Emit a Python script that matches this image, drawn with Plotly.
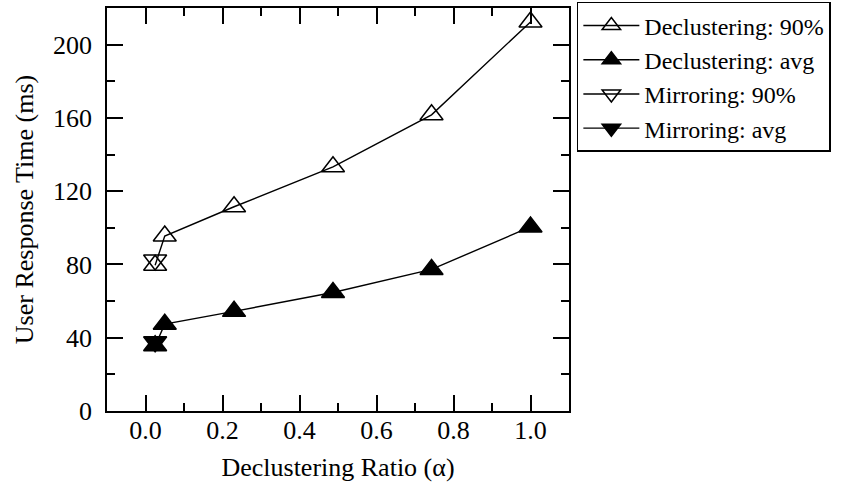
import plotly.graph_objects as go

# Declustering ratio (alpha) at which each configuration was measured
alpha_declustering = [0.025, 0.05, 0.23, 0.487, 0.743, 1.0]
alpha_mirroring = [0.025]

# User response times (ms)
declustering_p90 = [79.6, 95.5, 111.5, 133.3, 161.7, 212.4]
declustering_avg = [35.6, 47.4, 54.4, 64.7, 77.3, 100.5]
mirroring_p90 = [82.4]
mirroring_avg = [37.8]

FONT = "Liberation Serif, Times New Roman, serif"
BLACK = "#000000"

fig = go.Figure()


def add_series(x, y, name, symbol):
    fig.add_trace(go.Scatter(
        x=x, y=y, name=name, mode="lines+markers",
        line=dict(color=BLACK, width=1.4),
        marker=dict(symbol=symbol, size=20, color=BLACK,
                    line=dict(color=BLACK, width=1.5)),
    ))


add_series(alpha_declustering, declustering_p90, "Declustering: 90%", "triangle-up-open")
add_series(alpha_declustering, declustering_avg, "Declustering: avg", "triangle-up")
add_series(alpha_mirroring, mirroring_p90, "Mirroring: 90%", "triangle-down-open")
add_series(alpha_mirroring, mirroring_avg, "Mirroring: avg", "triangle-down")

axis_common = dict(
    showgrid=False, zeroline=False, showline=True, linecolor=BLACK, linewidth=1.5,
    mirror="allticks", ticks="inside", ticklen=16, tickwidth=1.5, tickcolor=BLACK,
    tickfont=dict(family=FONT, size=26, color=BLACK), automargin=False,
)

fig.update_layout(
    width=843, height=486,
    margin=dict(l=107, r=274, t=8, b=75, autoexpand=False),
    paper_bgcolor="white", plot_bgcolor="white",
    font=dict(family=FONT, size=26, color=BLACK),
    xaxis=dict(
        **axis_common, range=[-0.1, 1.1], tick0=0, dtick=0.2, tickformat=".1f",
        minor=dict(dtick=0.1, ticks="inside", ticklen=8, tickwidth=1.5, tickcolor=BLACK),
        ticklabelstandoff=-5,
        title=dict(text="Declustering Ratio (\u03b1)", standoff=14,
                   font=dict(family=FONT, size=26, color=BLACK)),
    ),
    yaxis=dict(
        **axis_common, range=[0, 220], tick0=0, dtick=40,
        minor=dict(dtick=20, ticks="inside", ticklen=8, tickwidth=1.5, tickcolor=BLACK),
        ticklabelstandoff=8,
        title=dict(text="User Response Time (ms)", standoff=12,
                   font=dict(family=FONT, size=26, color=BLACK)),
    ),
    legend=dict(
        x=1.017, y=1.015, xanchor="left", yanchor="top",
        bordercolor=BLACK, borderwidth=1.5, bgcolor="white",
        font=dict(family=FONT, size=24, color=BLACK),
        itemwidth=56, tracegroupgap=0,
    ),
    showlegend=True,
)

fig.write_html("out.html")
